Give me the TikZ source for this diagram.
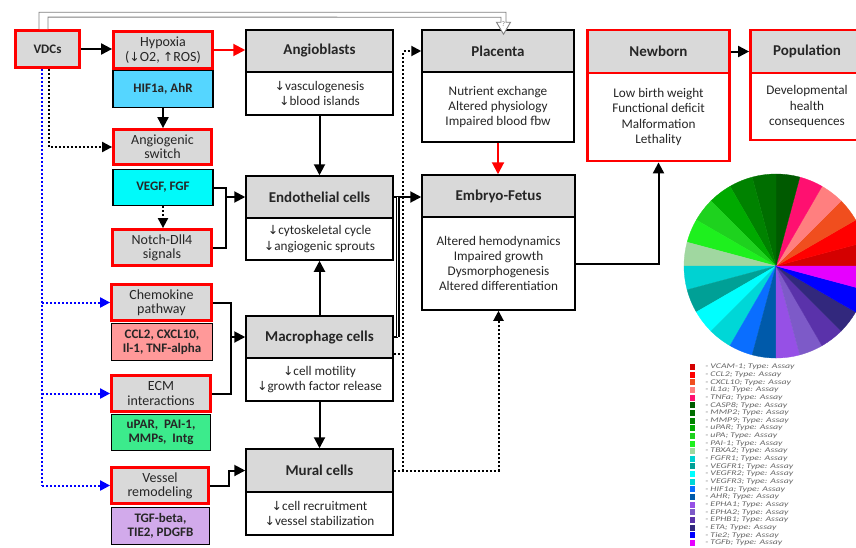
\documentclass[tikz,border=0pt]{standalone}
\usepackage{fontspec}
\setmainfont{Carlito}
\newfontfamily\arrfont{DejaVu Sans}
\usetikzlibrary{arrows.meta,calc}
\definecolor{hdrgray}{RGB}{217,217,217}
\definecolor{txt}{RGB}{38,38,38}
\definecolor{hifc}{RGB}{85,214,255}
\definecolor{vegfc}{RGB}{0,250,250}
\definecolor{ccl}{RGB}{255,153,153}
\definecolor{upar}{RGB}{60,235,140}
\definecolor{tgf}{RGB}{210,170,235}
\definecolor{pc0}{RGB}{212,0,0}
\definecolor{pc1}{RGB}{255,0,0}
\definecolor{pc2}{RGB}{240,78,30}
\definecolor{pc3}{RGB}{255,127,127}
\definecolor{pc4}{RGB}{255,16,112}
\definecolor{pc5}{RGB}{0,90,0}
\definecolor{pc6}{RGB}{0,110,0}
\definecolor{pc7}{RGB}{0,130,0}
\definecolor{pc8}{RGB}{0,170,0}
\definecolor{pc9}{RGB}{30,210,30}
\definecolor{pc10}{RGB}{30,240,30}
\definecolor{pc11}{RGB}{160,215,160}
\definecolor{pc12}{RGB}{0,210,210}
\definecolor{pc13}{RGB}{0,160,150}
\definecolor{pc14}{RGB}{0,255,255}
\definecolor{pc15}{RGB}{0,215,215}
\definecolor{pc16}{RGB}{10,110,255}
\definecolor{pc17}{RGB}{0,90,170}
\definecolor{pc18}{RGB}{150,80,230}
\definecolor{pc19}{RGB}{125,90,200}
\definecolor{pc20}{RGB}{90,50,170}
\definecolor{pc21}{RGB}{50,40,125}
\definecolor{pc22}{RGB}{0,0,255}
\definecolor{pc23}{RGB}{230,0,255}
\newcommand\hdrf{\fontsize{15}{18}\selectfont\bfseries}
\newcommand\bodyf{\fontsize{13.2}{15.3}\selectfont}
\newcommand\smallf{\fontsize{14}{14.3}\selectfont}
\newcommand\smallbf{\fontsize{13}{14.3}\selectfont\bfseries}
\newcommand\legf{\fontsize{7.2}{7.2}\selectfont\itshape}
\newcommand\dn{{\arrfont\fontsize{12.5}{12}\selectfont ↓}}
\newcommand\up{{\arrfont\fontsize{12.5}{12}\selectfont ↑}}
\begin{document}
\begin{tikzpicture}[x=1pt,y=-1pt,
  redbox/.style={draw=red, line width=2.8pt, fill=hdrgray, text=txt, align=center, font=\smallf, inner sep=0pt},
  colbox/.style={draw=black, line width=1.5pt, text=txt, align=center, font=\smallbf, inner sep=0pt},
  hdr/.style={draw=black, line width=1.5pt, fill=hdrgray, text=txt, font=\hdrf, align=center, inner sep=0pt},
  bodyb/.style={draw=black, line width=1.5pt, fill=white, text=txt, font=\bodyf, align=center, inner sep=0pt},
  rhdr/.style={hdr, draw=red, line width=2.8pt},
  rbody/.style={bodyb, draw=red, line width=2.8pt},
  ln/.style={line width=2pt, black},
  arr/.style={line width=2pt, black, -{Triangle[length=11pt,width=11pt]}},
  rarr/.style={line width=2pt, red, -{Triangle[length=12pt,width=12pt]}},
  dt/.style={line width=2pt, black, dash pattern=on 2pt off 2pt},
  dtarr/.style={dt, -{Triangle[length=10pt,width=10pt]}},
  bdt/.style={line width=2pt, blue, dash pattern=on 2pt off 2pt},
  bdtarr/.style={bdt, -{Triangle[length=10pt,width=10pt]}},
  legtxt/.style={font=\legf, text=black!60, anchor=west, inner sep=0pt, xscale=1.36, transform shape}
]
\useasboundingbox (0,0) rectangle (856,547);
\clip (0,0) rectangle (856,547);
\fill[white] (0,0) rectangle (856,547);

% left column
\node[redbox, font=\fontsize{13}{14}\selectfont\bfseries, minimum width=64pt, minimum height=37pt] (vdc) at (47.5,49) {VDCs};
\node[redbox, minimum width=99pt, minimum height=37pt] (hyp) at (163,50) {Hypoxia\\(\dn O2, \up ROS)};
\node[colbox, fill=hifc, minimum width=100pt, minimum height=37pt] (hif) at (163,89) {HIF1a, AhR};
\node[redbox, minimum width=98pt, minimum height=35pt] (angs) at (162.5,147) {Angiogenic\\switch};
\node[colbox, fill=vegfc, minimum width=100pt, minimum height=36pt] (vegf) at (163,187.5) {VEGF, FGF};
\node[redbox, minimum width=99pt, minimum height=36pt] (notch) at (162,247.5) {Notch-Dll4\\signals};
\node[redbox, minimum width=100pt, minimum height=36pt] (chem) at (161.5,302.5) {Chemokine\\pathway};
\node[colbox, fill=ccl, minimum width=101pt, minimum height=37pt] (ccl) at (162,342) {CCL2, CXCL10,\\Il-1, TNF-alpha};
\node[redbox, minimum width=99pt, minimum height=36pt] (ecm) at (161,393.5) {ECM\\interactions};
\node[colbox, fill=upar, minimum width=99pt, minimum height=36pt] (upar) at (161,432.5) {uPAR,~ PAI-1,\\MMPs,~ Intg};
\node[redbox, minimum width=97pt, minimum height=36pt] (vess) at (160,485.5) {Vessel\\remodeling};
\node[colbox, fill=tgf, minimum width=98pt, minimum height=37pt] (tgf) at (160.5,526) {TGF-beta,\\TIE2, PDGFB};

% middle column
\node[bodyb, minimum width=147pt, minimum height=43pt] (angb) at (319.5,93.5) {\dn vasculogenesis\\\dn blood islands};
\node[hdr, minimum width=147pt, minimum height=42pt] (angh) at (319.5,51) {Angioblasts};
\node[bodyb, minimum width=147pt, minimum height=42pt] (endob) at (319.5,239) {\dn cytoskeletal cycle\\\dn angiogenic sprouts};
\node[hdr, minimum width=147pt, minimum height=42pt] (endo) at (319.5,197) {Endothelial cells};
\node[bodyb, minimum width=147pt, minimum height=43pt] (macb) at (319.5,379.5) {\dn cell motility\\\dn growth factor release};
\node[hdr, minimum width=147pt, minimum height=42pt] (mac) at (319.5,337) {Macrophage cells};
\node[bodyb, minimum width=147pt, minimum height=43pt] (murb) at (319.5,513.5) {\dn cell recruitment\\\dn vessel stabilization};
\node[hdr, minimum width=147pt, minimum height=43pt] (mural) at (319.5,470.5) {Mural cells};

% right columns
\node[bodyb, minimum width=152pt, minimum height=70pt] (placb) at (498,107) {Nutrient exchange\\Altered physiology\\Impaired blood fbw};
\node[hdr, minimum width=152pt, minimum height=42pt] (plac) at (498,51) {Placenta};
\node[bodyb, minimum width=153pt, minimum height=93pt] (embb) at (498.5,263.5) {Altered hemodynamics\\Impaired growth\\Dysmorphogenesis\\Altered differentiation};
\node[hdr, minimum width=153pt, minimum height=42pt] (emb) at (498.5,196) {Embryo-Fetus};
\node[rbody, minimum width=142pt, minimum height=88pt] (newb) at (658.5,117) {Low birth weight\\Functional deficit\\Malformation\\Lethality};
\node[rhdr, minimum width=142pt, minimum height=43pt] (newh) at (658.5,51.5) {Newborn};
\node[rbody, minimum width=113pt, minimum height=67pt] (popb) at (807,106.5) {Developmental\\health\\consequences};
\node[rhdr, minimum width=113pt, minimum height=43pt] (poph) at (807,51.5) {Population};

% coordinates for bends
\coordinate (bx) at ([xshift=-5.5pt]vdc.south);
\coordinate (kx) at ([xshift=1.5pt]vdc.south);
\coordinate (b1) at (226,0);
\coordinate (b2) at (231,0);
\coordinate (b3) at (229,0);
\coordinate (dbl) at (397.5,0);
\coordinate (dx) at (403,0);

% connectors
\draw[arr] (vdc.east) -- (vdc.east -| hyp.west);
\draw[rarr] (hyp.east) -- (hyp.east -| angh.west);
\draw[arr] (hif.south) -- (hif.south |- angs.north);
\draw[dtarr] (kx) |- (angs.west);
\draw[bdt] (bx) -- (bx |- vess.west);
\draw[bdtarr] (bx |- chem.west) -- (chem.west);
\draw[bdtarr] (bx |- ecm.west) -- (ecm.west);
\draw[bdtarr] (bx |- vess.west) -- (vess.west);
\draw[dtarr] (vegf.south) -- (vegf.south |- notch.north);
\draw[ln] (vegf.east) -- (vegf.east -| b1) -- (notch.east -| b1) -- (notch.east);
\draw[arr] (endo.west -| b1) -- (endo.west);
\draw[ln] (chem.east) -- (chem.east -| b2) -- (ecm.east -| b2) -- (ecm.east);
\draw[arr] (mac.west -| b2) -- (mac.west);
\draw[arr] (vess.east) -- (vess.east -| b3) -- (mural.west -| b3) -- (mural.west);
\draw[arr] (angb.south) -- (endo.north);
\draw[arr] (mac.north) -- (endob.south);
\draw[arr] (macb.south) -- (mural.north);
\draw[arr] (endo.east) -- (endo.east -| emb.west);
\draw[ln] (mac.east) -- (mac.east -| dbl);
\draw[line width=1.2pt, double=white, double distance=1.6pt] (dbl |- mac.east) -- (dbl |- endo.east);
\draw[dtarr] (mural.east) -| (emb.south |- embb.south);
\draw[dt] ([yshift=-17pt]mac.east) -- ([yshift=-17pt]mac.east -| dx);
\draw[dtarr] (dx |- mural.east) -- (dx |- plac.west) -- (plac.west);
\draw[rarr] (placb.south) -- (placb.south |- emb.north);
\draw[arr] (embb.east) -| (newb.south);
\draw[arr] (newh.east) -- (poph.west);

% top hollow arrow VDCs -> Placenta
\draw[black!50, line width=0.9pt, fill=white]
  ($(vdc.north)+(-8.5,0)$) |- ($(plac.north)+(8,-17)$) -- ($(plac.north)+(8,-7)$)
  -- ($(plac.north)+(12.5,-7)$) -- ($(plac.north)+(5.5,5)$) -- ($(plac.north)+(-1.5,-7)$)
  -- ($(plac.north)+(3,-7)$) -- ($(plac.north)+(3,-12)$) -- ($(vdc.north)+(0.5,-12)$)
  -- ($(vdc.north)+(0.5,0)$);
\node[font=\fontsize{7}{7}\selectfont, text=black!55, inner sep=0pt] (qm) at ($(plac.north)+(5.5,-5)$) {?};

% pie chart
\foreach \c [count=\i from 0] in {pc0,pc1,pc2,pc3,pc4,pc5,pc6,pc7,pc8,pc9,pc10,pc11,pc12,pc13,pc14,pc15,pc16,pc17,pc18,pc19,pc20,pc21,pc22,pc23}{
  \fill[\c, draw=\c, line width=0.3pt] (776,266) -- ++({\i*15}:92pt) arc[start angle={\i*15}, end angle={\i*15+15}, radius=92pt] -- cycle;
}

% legend
\foreach \c/\n [count=\i from 0] in {pc0/VCAM-1,pc1/CCL2,pc2/CXCL10,pc3/IL1a,pc4/TNFa,pc5/CASP8,pc6/MMP2,pc7/MMP9,pc8/uPAR,pc9/uPA,pc10/PAI-1,pc11/TBXA2,pc12/FGFR1,pc13/VEGFR1,pc14/VEGFR2,pc15/VEGFR3,pc16/HIF1a,pc17/AHR,pc18/EPHA1,pc19/EPHA2,pc20/EPHB1,pc21/ETA,pc22/Tie2,pc23/TGFb}{
  \fill[\c] (690,{364+\i*7.65}) rectangle ++(5,6);
  \node[legtxt] (lg\i) at (705,{367+\i*7.65}) {- \n; Type: Assay};
}
\end{tikzpicture}
\end{document}
